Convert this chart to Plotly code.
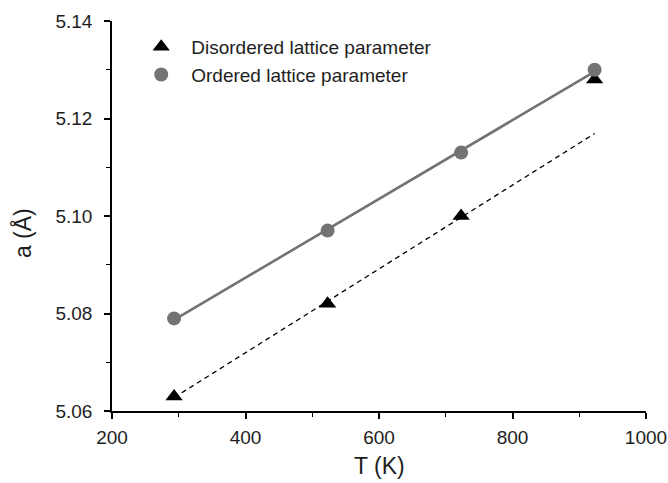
import numpy as np
import plotly.graph_objects as go

# Lattice parameter vs temperature
temperature_K = [293, 523, 723, 923]
disordered_a = [5.063, 5.082, 5.100, 5.128]
ordered_a = [5.079, 5.097, 5.113, 5.130]

x_ticks = [200, 400, 600, 800, 1000]
y_ticks = [5.06, 5.08, 5.10, 5.12, 5.14]
y_tick_text = ["5.06", "5.08", "5.10", "5.12", "5.14"]

# Linear fits: ordered over all points, disordered over the first three points
T = np.array(temperature_K, dtype=float)
ord_fit = np.polyfit(T, ordered_a, 1)
dis_fit = np.polyfit(T[:3], disordered_a[:3], 1)
fit_T = [T[0], T[-1]]

GRAY = "rgb(115,115,115)"
TEXT = "#1e1e1e"
FONT = "Arial, Liberation Sans, sans-serif"

fig = go.Figure()

fig.add_trace(go.Scatter(
    x=fit_T, y=np.polyval(dis_fit, fit_T), mode="lines",
    line=dict(color="black", width=1.3, dash="5px,4px"),
    showlegend=False, hoverinfo="skip"))
fig.add_trace(go.Scatter(
    x=fit_T, y=np.polyval(ord_fit, fit_T), mode="lines",
    line=dict(color=GRAY, width=2.6),
    showlegend=False, hoverinfo="skip"))

fig.add_trace(go.Scatter(
    x=temperature_K, y=disordered_a, mode="markers",
    name="Disordered lattice parameter",
    marker=dict(symbol="triangle-up", size=15, color="black")))
fig.add_trace(go.Scatter(
    x=temperature_K, y=ordered_a, mode="markers",
    name="Ordered lattice parameter",
    marker=dict(symbol="circle", size=14, color=GRAY)))

axis_common = dict(
    showline=True, linecolor="black", linewidth=1.6,
    ticks="outside", ticklen=6, tickwidth=1.6, tickcolor="black",
    showgrid=False, zeroline=False, mirror=False, automargin=False,
    tickfont=dict(family=FONT, size=19, color=TEXT),
)

fig.update_xaxes(
    range=[200, 1000], tickvals=x_ticks, ticklabelstandoff=2,
    minor=dict(ticks="outside", ticklen=4, tickwidth=1.4, tickcolor="black", dtick=100, showgrid=False),
    **axis_common)
fig.update_yaxes(
    range=[5.06, 5.14], tickvals=y_ticks, ticktext=y_tick_text, ticklabelstandoff=8,
    minor=dict(ticks="outside", ticklen=4, tickwidth=1.4, tickcolor="black", dtick=0.01, tick0=5.06, showgrid=False),
    **axis_common)

# Axis titles
fig.add_annotation(text="T (K)", xref="paper", yref="paper", x=0.5, y=-0.142,
                   xanchor="center", yanchor="middle", showarrow=False,
                   font=dict(family=FONT, size=23, color=TEXT))
fig.add_annotation(text="a (Å)", xref="paper", yref="paper", x=-0.168, y=0.457,
                   xanchor="center", yanchor="middle", showarrow=False, textangle=-90,
                   font=dict(family=FONT, size=23, color=TEXT))

fig.update_layout(
    width=668, height=483,
    margin=dict(l=112, r=22, t=21, b=72),
    paper_bgcolor="white", plot_bgcolor="white",
    showlegend=True,
    legend=dict(
        x=0.036, y=0.982, xanchor="left", yanchor="top",
        bgcolor="rgba(0,0,0,0)",
        font=dict(family=FONT, size=19, color=TEXT),
        itemwidth=50, tracegroupgap=0,
    ),
)

fig.write_html("out.html")
